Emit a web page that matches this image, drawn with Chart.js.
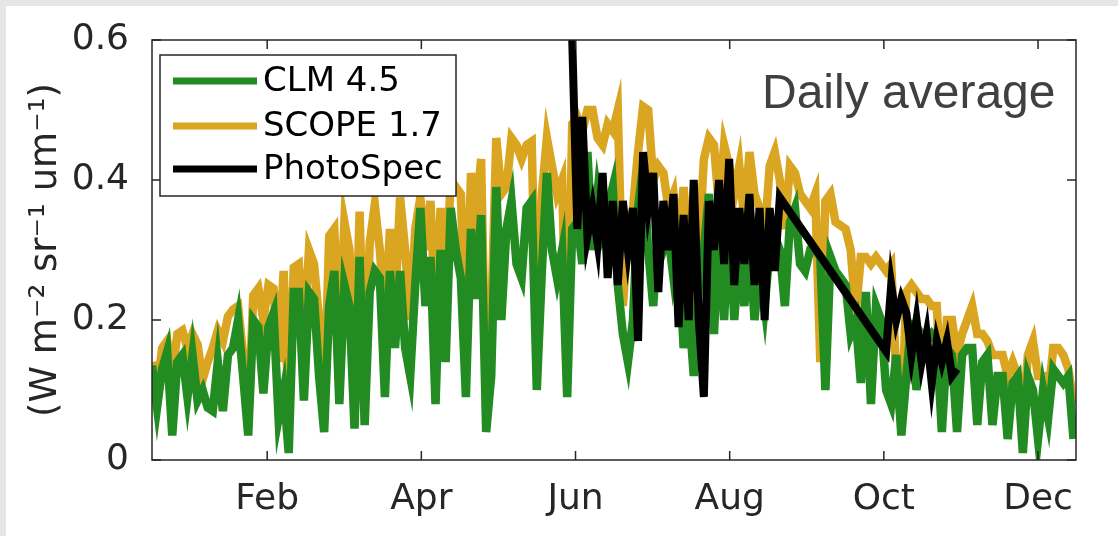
<!DOCTYPE html>
<html>
<head>
<meta charset="utf-8">
<title>SIF daily average</title>
<script src="https://cdn.jsdelivr.net/npm/chart.js@4.4.1/dist/chart.umd.min.js"></script>
<style>
  html, body { margin: 0; padding: 0; background: #e6e6e6; overflow: hidden; }
  canvas { display: block; }
</style>
</head>
<body>
<canvas id="myChart" width="1118" height="536"></canvas>
<script>
// month ticks (day of year) and their labels
const tickDays = [46.5, 107.4, 168.3, 229.2, 290.1, 351];
const tickLabels = ['Feb', 'Apr', 'Jun', 'Aug', 'Oct', 'Dec'];
const yTicks = [0, 0.2, 0.4, 0.6];

// model output, one value every second day starting Jan 1
const clm = [
  0.135, 0.075, 0.13, 0.155, 0.035, 0.14, 0.15, 0.09, 0.15, 0.085,
  0.10, 0.075, 0.07, 0.14, 0.07, 0.15, 0.16, 0.20, 0.12, 0.035,
  0.20, 0.19, 0.095, 0.19, 0.21, 0.06, 0.10, 0.01, 0.24, 0.24,
  0.085, 0.24,
  0.23, 0.12, 0.04, 0.22, 0.27, 0.08, 0.25, 0.22, 0.045, 0.29,
  0.05, 0.24, 0.27, 0.26, 0.09, 0.27, 0.16, 0.27, 0.16, 0.12,
  0.25, 0.36, 0.22, 0.29, 0.08, 0.30, 0.14, 0.36, 0.30,
  0.26, 0.09, 0.33, 0.23, 0.35, 0.04, 0.12, 0.39, 0.20, 0.33,
  0.37, 0.28, 0.26, 0.36, 0.37, 0.10, 0.27, 0.41, 0.30, 0.26,
  0.30, 0.09, 0.33, 0.34, 0.28, 0.44, 0.30, 0.38, 0.33, 0.36,
  0.39, 0.25, 0.18, 0.14, 0.20, 0.36, 0.42, 0.30, 0.22, 0.33,
  0.30, 0.32, 0.26, 0.30, 0.16, 0.22, 0.12, 0.25, 0.30, 0.38,
  0.18, 0.34, 0.20, 0.36, 0.20, 0.30, 0.22, 0.32, 0.20,
  0.28, 0.22, 0.30, 0.32, 0.30, 0.22, 0.34, 0.36, 0.28, 0.27,
  0.30, 0.30, 0.29, 0.10, 0.29, 0.27, 0.26, 0.25, 0.18, 0.20,
  0.11, 0.24, 0.08, 0.22, 0.20, 0.10, 0.08, 0.15, 0.035, 0.12,
  0.20, 0.10, 0.18, 0.17, 0.18, 0.17, 0.04, 0.16, 0.15, 0.04,
  0.15, 0.16, 0.16, 0.05, 0.14, 0.15, 0.05, 0.12, 0.12, 0.03,
  0.11, 0.12, 0.01, 0.12, 0.10, 0.03, 0.10, 0.06, 0.13, 0.12,
  0.11, 0.12, 0.03
];

const scope = [
  0.14, 0.10, 0.16, 0.17, 0.12, 0.18, 0.185, 0.16, 0.18, 0.165,
  0.115, 0.14, 0.16, 0.185, 0.17, 0.205, 0.215, 0.22, 0.15, 0.055,
  0.235, 0.245, 0.20, 0.25, 0.245, 0.14, 0.27, 0.06, 0.275, 0.28,
  0.17, 0.30,
  0.28, 0.20, 0.08, 0.32, 0.33, 0.16, 0.34, 0.30, 0.09, 0.355,
  0.10, 0.31, 0.365, 0.30, 0.20, 0.33, 0.22, 0.375, 0.30, 0.20,
  0.33, 0.375, 0.30, 0.37, 0.20, 0.36, 0.25, 0.40, 0.39,
  0.38, 0.16, 0.41, 0.35, 0.43, 0.07, 0.20, 0.46, 0.38, 0.39,
  0.46, 0.45, 0.43, 0.45, 0.455, 0.13, 0.38, 0.46, 0.42, 0.38,
  0.40, 0.11, 0.48, 0.49, 0.47, 0.50, 0.50, 0.46, 0.45, 0.48,
  0.47, 0.50, 0.22, 0.32, 0.36, 0.44, 0.505, 0.50, 0.40, 0.42,
  0.41, 0.36, 0.38, 0.30, 0.39, 0.30, 0.20, 0.30, 0.43, 0.46,
  0.45, 0.36, 0.45, 0.42, 0.38, 0.42, 0.34, 0.44, 0.38,
  0.36, 0.32, 0.42, 0.44, 0.40, 0.33, 0.42, 0.41, 0.38, 0.37,
  0.36, 0.38, 0.14, 0.37, 0.38, 0.34, 0.335, 0.33, 0.30, 0.21,
  0.29, 0.29, 0.28, 0.29, 0.28, 0.27, 0.28, 0.12, 0.05, 0.24,
  0.25, 0.24, 0.23, 0.23, 0.22, 0.22, 0.08, 0.20, 0.20, 0.15,
  0.18, 0.20, 0.22, 0.18, 0.18, 0.17, 0.15, 0.15, 0.15, 0.12,
  0.14, 0.12, 0.06, 0.15, 0.17, 0.12, 0.12, 0.09, 0.16, 0.16,
  0.15, 0.13, 0.08
];

// tower measurements, with a gap in September
const photoDays = [
  167, 169, 171, 173, 175, 177, 179, 181, 183, 185, 187, 189, 191, 193,
  195, 197, 199, 201, 203, 205, 207, 209, 211, 213, 215, 217, 219, 221,
  223, 225, 227, 229, 231, 233, 235, 237, 239, 241, 243, 245, 247, 249,
  291, 293, 295, 297, 299, 301, 303, 305, 307, 309, 311, 313, 315, 317, 319
];
const photoSpec = [
  0.60, 0.33, 0.49, 0.32, 0.36, 0.31, 0.41, 0.26, 0.37, 0.25, 0.37, 0.30, 0.36, 0.17,
  0.44, 0.36, 0.41, 0.24, 0.37, 0.30, 0.38, 0.19, 0.35, 0.20, 0.40, 0.20, 0.09, 0.37,
  0.30, 0.40, 0.28, 0.43, 0.25, 0.36, 0.28, 0.38, 0.25, 0.36, 0.20, 0.36, 0.27, 0.375,
  0.155, 0.25, 0.20, 0.23, 0.21, 0.15, 0.20, 0.14, 0.18, 0.11, 0.17, 0.14, 0.17, 0.12, 0.13
];

const FONT = 'DejaVu Sans';
const AXIS = '#262626';

const series = (vals) => vals.map((v, i) => ({ x: 1 + 2 * i, y: v }));

const data = {
  datasets: [{
    label: 'CLM 4.5',
    data: series(clm),
    borderColor: '#228b22',
    borderWidth: 8.5,
    order: 1
  }, {
    label: 'SCOPE 1.7',
    data: series(scope),
    borderColor: '#daa520',
    borderWidth: 8.5,
    order: 2
  }, {
    label: 'PhotoSpec',
    data: photoDays.map((d, i) => ({ x: d, y: photoSpec[i] })),
    borderColor: '#000000',
    borderWidth: 8,
    order: 0
  }]
};

// grey page edge behind a white figure
const backdrop = {
  id: 'backdrop',
  beforeDraw(chart) {
    const ctx = chart.ctx;
    ctx.save();
    ctx.fillStyle = '#e6e6e6';
    ctx.fillRect(0, 0, chart.width, chart.height);
    ctx.fillStyle = '#ffffff';
    ctx.fillRect(6, 6, chart.width - 6, chart.height - 6);
    ctx.restore();
  }
};

// boxed axes with inward ticks, legend and annotation
const frame = {
  id: 'frame',
  afterDatasetsDraw(chart) {
    const { ctx, chartArea: a, scales } = chart;
    ctx.save();
    ctx.strokeStyle = AXIS;
    ctx.lineWidth = 1.5;
    ctx.strokeRect(a.left, a.top, a.right - a.left, a.bottom - a.top);
    ctx.beginPath();
    tickDays.forEach(d => {
      const px = scales.x.getPixelForValue(d);
      ctx.moveTo(px, a.bottom); ctx.lineTo(px, a.bottom - 9);
      ctx.moveTo(px, a.top); ctx.lineTo(px, a.top + 9);
    });
    yTicks.forEach(v => {
      const py = scales.y.getPixelForValue(v);
      ctx.moveTo(a.left, py); ctx.lineTo(a.left + 9, py);
      ctx.moveTo(a.right, py); ctx.lineTo(a.right - 9, py);
    });
    ctx.stroke();

    // legend
    ctx.fillStyle = '#ffffff';
    ctx.fillRect(160, 55, 296, 141);
    ctx.strokeRect(160, 55, 296, 141);
    const rows = [81, 126, 169];
    ctx.font = '34px "' + FONT + '"';
    ctx.textBaseline = 'middle';
    ctx.textAlign = 'left';
    chart.data.datasets.forEach((ds, i) => {
      ctx.strokeStyle = ds.borderColor;
      ctx.lineWidth = 7;
      ctx.beginPath();
      ctx.moveTo(173, rows[i]);
      ctx.lineTo(257, rows[i]);
      ctx.stroke();
      ctx.fillStyle = '#000000';
      ctx.fillText(ds.label, 263, rows[i] + 1);
    });

    ctx.fillStyle = '#404040';
    ctx.font = '48px "Liberation Sans"';
    ctx.textBaseline = 'alphabetic';
    ctx.fillText('Daily average', 762, 108);
    ctx.restore();
  }
};

const config = {
  type: 'line',
  data: data,
  options: {
    responsive: false,
    animation: false,
    elements: { point: { radius: 0 }, line: { tension: 0 } },
    layout: { padding: { top: 40, right: 42, left: 0, bottom: 0 } },
    plugins: {
      legend: { display: false },
      tooltip: { enabled: false }
    },
    scales: {
      x: {
        type: 'linear',
        min: 1,
        max: 366,
        afterFit: (s) => { s.height = 76; },
        afterBuildTicks: (s) => { s.ticks = tickDays.map(v => ({ value: v })); },
        ticks: {
          autoSkip: false,
          maxRotation: 0,
          padding: 10,
          color: AXIS,
          font: { family: FONT, size: 36 },
          callback: (v, i) => tickLabels[i]
        },
        grid: { display: false },
        border: { display: false }
      },
      y: {
        min: 0,
        max: 0.6,
        afterFit: (s) => { s.width = 152; },
        afterBuildTicks: (s) => { s.ticks = yTicks.map(v => ({ value: v })); },
        ticks: {
          padding: 15,
          color: AXIS,
          font: { family: FONT, size: 36 },
          callback: (v) => String(v)
        },
        grid: { display: false },
        border: { display: false },
        title: {
          display: true,
          text: '(W m\u207B\u00B2 sr\u207B\u00B9 um\u207B\u00B9)',
          color: AXIS,
          font: { family: FONT, size: 37 },
          padding: { top: 24, bottom: 0 }
        }
      }
    }
  },
  plugins: [backdrop, frame]
};

new Chart(document.getElementById('myChart'), config);
</script>
</body>
</html>
